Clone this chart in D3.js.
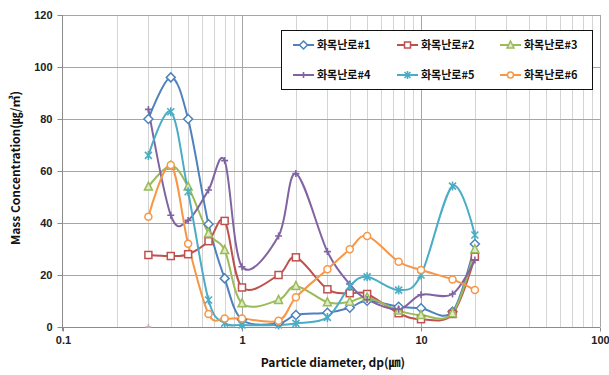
<!DOCTYPE html>
<html>
<head>
<meta charset="utf-8">
<script src="https://cdn.jsdelivr.net/npm/d3@7"></script>
<style>
  body { margin: 0; background: #fff; }
  svg { display: block; font-family: "Noto Sans CJK KR", "Noto Sans", sans-serif; }
</style>
</head>
<body>
<svg id="chart" width="609" height="375"></svg>
<script>
// Particle diameters (µm) shared by every series
const diameters = [0.3, 0.4, 0.5, 0.65, 0.8, 1, 1.6, 2, 3, 4, 5, 7.5, 10, 15, 20];

// Mass concentration per stove
const stove1 = [80, 96, 80, 39.5, 18.7, 2.8, 1.4, 4.6, 5.5, 7.4, 10.1, 7.8, 7.2, 5.9, 31.9];
const stove2 = [27.7, 27.3, 28, 33, 40.8, 15.2, 20, 26.8, 14.5, 13, 12.7, 5.3, 3, 5, 27];
const stove3 = [54, 62, 54, 36, 29.6, 9.1, 10.4, 15.8, 9.5, 9.7, 11.4, 6.3, 4.6, 5.3, 29.9];
const stove4 = [83.7, 43, 41, 52.7, 64, 23.2, 35, 59, 29, 16.5, 10.6, 6.8, 12.4, 12.7, 25.8];
const stove5 = [66, 82.8, 52, 10.4, 1.5, 0.8, 0.8, 1.4, 3.7, 15.6, 19.3, 14.2, 20, 54.2, 35.4];
const stove6 = [42.4, 62.3, 32, 5, 3.3, 3.3, 2.4, 11.4, 22.2, 29.9, 35, 25.1, 21.9, 18.3, 14.2];

const seriesNames = ["화목난로#1", "화목난로#2", "화목난로#3", "화목난로#4", "화목난로#5", "화목난로#6"];
const seriesValues = [stove1, stove2, stove3, stove4, stove5, stove6];
const seriesColors = ["#4F81BD", "#C0504D", "#9BBB59", "#8064A2", "#4BACC6", "#F79646"];
const seriesMarkers = ["diamond", "square", "triangle", "plus", "star", "circle"];

// stray leftover point near the origin
const strayPoint = [{ d: 0.3, v: 0 }];

const yTicks = [0, 20, 40, 60, 80, 100, 120];
const xTicks = [0.1, 1, 10, 100];

const svg = d3.select("#chart");
const margin = { left: 63, right: 600, top: 15, bottom: 327 };

const x = d3.scaleLog().domain([0.1, 100]).range([margin.left, margin.right]);
const y = d3.scaleLinear().domain([0, 120]).range([margin.bottom, margin.top]);

// Gridlines: minor log lines lighter, decades darker
const minorX = [];
[0.1, 1, 10].forEach(dec => { for (let k = 2; k <= 9; k++) minorX.push(dec * k); });

const grid = svg.append("g");
grid.selectAll("line.minor")
  .data(minorX)
  .join("line")
  .attr("x1", d => Math.round(x(d)) + 0.5)
  .attr("x2", d => Math.round(x(d)) + 0.5)
  .attr("y1", margin.top)
  .attr("y2", margin.bottom)
  .attr("stroke", "#d4d4d4")
  .attr("stroke-width", 1);

grid.selectAll("line.major")
  .data([1, 10, 100])
  .join("line")
  .attr("x1", d => Math.round(x(d)) + 0.5)
  .attr("x2", d => Math.round(x(d)) + 0.5)
  .attr("y1", margin.top)
  .attr("y2", margin.bottom)
  .attr("stroke", "#a6a6a6")
  .attr("stroke-width", 1);

grid.selectAll("line.h")
  .data(yTicks.filter(d => d > 0))
  .join("line")
  .attr("x1", margin.left)
  .attr("x2", margin.right)
  .attr("y1", d => Math.round(y(d)) + 0.5)
  .attr("y2", d => Math.round(y(d)) + 0.5)
  .attr("stroke", "#a6a6a6")
  .attr("stroke-width", 1);

// Axes
const yAxis = d3.axisLeft(y).tickValues(yTicks).tickSize(5).tickPadding(5);
const gy = svg.append("g")
  .attr("transform", `translate(${margin.left - 0.5},0)`)
  .call(yAxis);
gy.select(".domain").attr("stroke", "#8c8c8c").attr("d", `M0,${margin.top}V${margin.bottom + 4}`);

const xAxis = d3.axisBottom(x).tickValues(xTicks).tickFormat(d3.format("~g")).tickSize(4).tickPadding(5);
const gx = svg.append("g")
  .attr("transform", `translate(0,${margin.bottom + 0.5})`)
  .call(xAxis);
gx.select(".domain").attr("stroke", "#8c8c8c").attr("d", `M${margin.left},0H${margin.right}`);

[gx, gy].forEach(g => {
  g.selectAll(".tick line").attr("stroke", "#8c8c8c");
  g.selectAll(".tick text")
    .attr("fill", "#222")
    .style("font-size", "11px")
    .style("font-weight", "bold");
});

// Axis titles
svg.append("text")
  .attr("x", 333)
  .attr("y", 367)
  .attr("text-anchor", "middle")
  .style("font-size", "12px")
  .style("font-weight", "bold")
  .attr("fill", "#111")
  .text("Particle diameter, dp(㎛)");

svg.append("text")
  .attr("transform", "translate(20,168) rotate(-90)")
  .attr("text-anchor", "middle")
  .style("font-size", "12px")
  .style("font-weight", "bold")
  .attr("fill", "#111")
  .text("Mass Concentration(㎍/㎥)");

// Marker drawing helper
function drawMarker(g, type, color, cx, cy, s) {
  const h = s / 2;
  if (type === "diamond") {
    g.append("path")
      .attr("d", `M${cx},${cy - h - 1}L${cx + h + 1},${cy}L${cx},${cy + h + 1}L${cx - h - 1},${cy}Z`)
      .attr("fill", "#fff").attr("stroke", color).attr("stroke-width", 1.5);
  } else if (type === "square") {
    g.append("rect")
      .attr("x", cx - h).attr("y", cy - h).attr("width", s).attr("height", s)
      .attr("fill", "#fff").attr("stroke", color).attr("stroke-width", 1.5);
  } else if (type === "triangle") {
    g.append("path")
      .attr("d", `M${cx},${cy - h - 1}L${cx + h + 0.5},${cy + h}L${cx - h - 0.5},${cy + h}Z`)
      .attr("fill", "#dfe9c8").attr("stroke", color).attr("stroke-width", 1.5);
  } else if (type === "circle") {
    g.append("circle")
      .attr("cx", cx).attr("cy", cy).attr("r", h)
      .attr("fill", "#fff").attr("stroke", color).attr("stroke-width", 1.5);
  } else if (type === "plus") {
    g.append("path")
      .attr("d", `M${cx - h},${cy}H${cx + h}M${cx},${cy - h}V${cy + h}`)
      .attr("stroke", color).attr("stroke-width", 1.6);
  } else if (type === "star") {
    g.append("path")
      .attr("d", `M${cx - h},${cy - h}L${cx + h},${cy + h}M${cx + h},${cy - h}L${cx - h},${cy + h}M${cx},${cy - h - 1}V${cy + h + 1}`)
      .attr("stroke", color).attr("stroke-width", 1.6);
  }
}

// Stray point
strayPoint.forEach(p => {
  svg.append("path")
    .attr("d", `M${x(p.d) - 3},${y(p.v)}H${x(p.d) + 3}M${x(p.d)},${y(p.v) - 3}V${y(p.v) + 1}`)
    .attr("stroke", "#c9a9b0").attr("stroke-width", 1.5);
});

// Smoothed series lines
const line = d3.line()
  .x(d => x(d[0]))
  .y(d => y(d[1]))
  .curve(d3.curveCardinal.tension(0));

const seriesG = svg.append("g");
seriesValues.forEach((vals, i) => {
  const pts = diameters.map((d, j) => [d, vals[j]]);
  seriesG.append("path")
    .datum(pts)
    .attr("d", line)
    .attr("fill", "none")
    .attr("stroke", seriesColors[i])
    .attr("stroke-width", 2);
});
seriesValues.forEach((vals, i) => {
  const mg = seriesG.append("g");
  diameters.forEach((d, j) => drawMarker(mg, seriesMarkers[i], seriesColors[i], x(d), y(vals[j]), 7));
});

// Legend
const legend = svg.append("g");
legend.append("rect")
  .attr("x", 281.5).attr("y", 30.5)
  .attr("width", 311).attr("height", 59)
  .attr("fill", "#fff").attr("stroke", "#111").attr("stroke-width", 1);

const colX = [293, 397, 500];
const rowY = [45, 75];
seriesNames.forEach((name, i) => {
  const lx = colX[i % 3], ly = rowY[Math.floor(i / 3)];
  legend.append("line")
    .attr("x1", lx).attr("x2", lx + 21)
    .attr("y1", ly).attr("y2", ly)
    .attr("stroke", seriesColors[i]).attr("stroke-width", 2);
  drawMarker(legend, seriesMarkers[i], seriesColors[i], lx + 10.5, ly, 6);
  legend.append("text")
    .attr("x", lx + 24)
    .attr("y", ly)
    .attr("dy", "0.36em")
    .style("font-size", "11px")
    .style("font-weight", "bold")
    .attr("fill", "#111")
    .text(name);
});
</script>
</body>
</html>
